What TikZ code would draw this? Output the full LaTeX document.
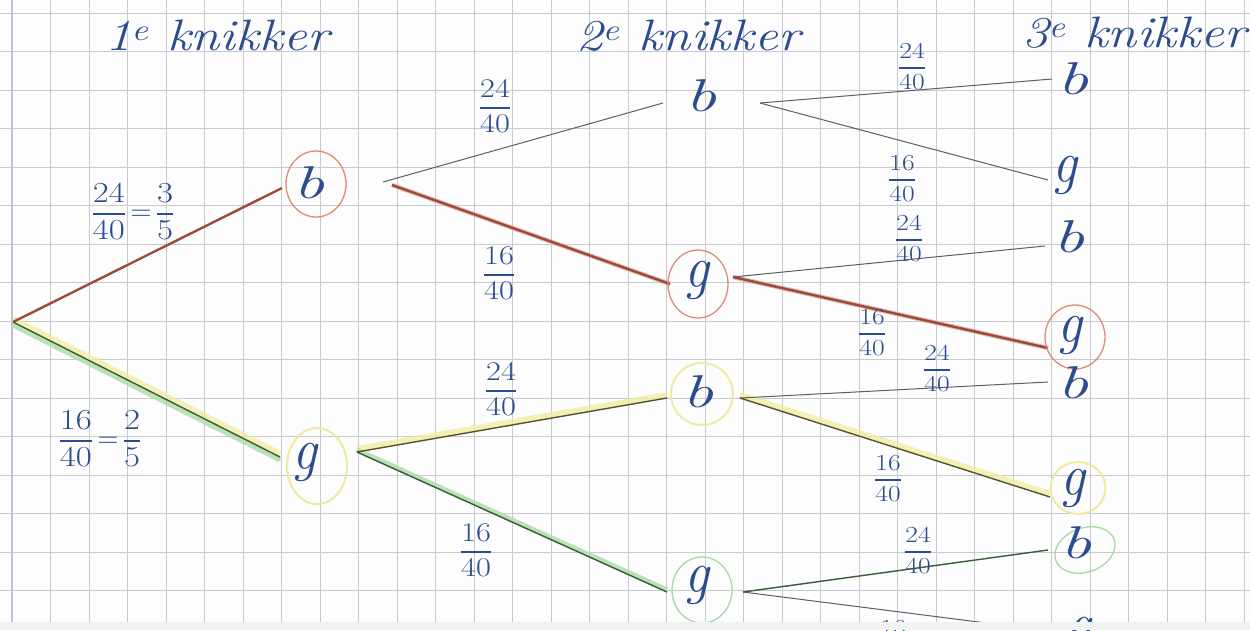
\documentclass[tikz,border=0pt]{standalone}
\usepackage{graphicx}
\usetikzlibrary{shapes.geometric}
\definecolor{ink}{HTML}{2B4C8F}
\definecolor{gridc}{HTML}{C9CACE}
\definecolor{marginc}{HTML}{BCC3D8}
\definecolor{redline}{HTML}{9A4B39}
\definecolor{redglow}{HTML}{E3A08E}
\definecolor{redcirc}{HTML}{DC8C76}
\definecolor{yel}{HTML}{F2EB9C}
\definecolor{yelcirc}{HTML}{EEEAA2}
\definecolor{grn}{HTML}{AEDFA8}
\definecolor{grncirc}{HTML}{A9D8A6}
\definecolor{darkg}{HTML}{3B5B39}
\definecolor{olive}{HTML}{55532E}
\definecolor{pen}{HTML}{5E5E62}
\definecolor{paper}{HTML}{FDFDFD}
\definecolor{edgec}{HTML}{F1F2F4}
\setlength{\arrayrulewidth}{1.3pt}
\newcommand{\hfr}[2]{\renewcommand{\arraystretch}{1.05}\begin{tabular}{@{}c@{}}\scalebox{1.2}[1]{#1}\\\hline \scalebox{1.2}[1]{#2}\end{tabular}}
\begin{document}
\begin{tikzpicture}[x=1pt,y=-1pt,
  gridline/.style={draw=gridc,line width=0.8pt},
  letter/.style={text=ink,inner sep=0pt,font=\fontsize{46}{46}\selectfont\itshape},
  titletext/.style={text=ink,inner sep=0pt,anchor=base,font=\fontsize{44}{44}\selectfont\itshape},
  fracA/.style={text=ink,inner sep=0pt,font=\fontsize{29}{34}\selectfont},
  fracB/.style={text=ink,inner sep=0pt,font=\fontsize{27}{32}\selectfont},
  fracC/.style={text=ink,inner sep=0pt,font=\fontsize{23}{28}\selectfont},
  penline/.style={draw=pen,line width=1pt},
  redpath/.style={draw=redline,line width=2.4pt},
  redhalo/.style={draw=redglow,line width=4.5pt,opacity=0.7},
  yelhalo/.style={draw=yel,line width=6pt,opacity=0.75},
  grnhalo/.style={draw=grn,line width=5pt,opacity=0.85},
  darkline/.style={draw=darkg,line width=1.4pt},
  oliveline/.style={draw=olive,line width=1.4pt},
  ring/.style={ellipse,line width=1.3pt,inner sep=0pt,fill=none},
  redring/.style={ring,draw=redcirc},
  yelring/.style={ring,draw=yelcirc,line width=2pt},
  grnring/.style={ring,draw=grncirc}]
\useasboundingbox (0,0) rectangle (1250,630);
\fill[paper] (0,0) rectangle (1250,630);
% squared paper
\foreach \i in {0,...,32} \draw[gridline] ({12+38.5*\i},0) -- ({12+38.5*\i},622);
\foreach \j in {0,...,15} \draw[gridline] (0,{13+38.5*\j}) -- (1250,{13+38.5*\j});
\draw[marginc,line width=2.6pt] (12,0) -- (12,622);

% points where the branches meet the letters
\coordinate (R) at (13,322);
\coordinate (b1in) at (282,188);  \coordinate (b1out) at (383,182); \coordinate (b1outr) at (392,185);
\coordinate (g1in) at (280,457);  \coordinate (g1out) at (357,452);
\coordinate (b2ain) at (663,103); \coordinate (b2aout) at (760,103);
\coordinate (g2ain) at (670,284); \coordinate (g2aout) at (733,277);
\coordinate (b2bin) at (667,398); \coordinate (b2bout) at (740,398);
\coordinate (g2bin) at (667,592); \coordinate (g2bout) at (743,592);
\coordinate (b3ain) at (1052,79);
\coordinate (g3ain) at (1048,180);
\coordinate (b3bin) at (1045,246);
\coordinate (g3bin) at (1048,348);
\coordinate (b3cin) at (1048,382);
\coordinate (g3cin) at (1050,497);
\coordinate (b3din) at (1048,550);
\coordinate (g3din) at (1010,626);

% highlighter strokes
\draw[yelhalo] ([yshift=3pt]R) -- ([yshift=3pt]g1in);
\draw[grnhalo] ([yshift=-3pt]R) -- ([yshift=-3pt]g1in);
\draw[yelhalo] ([yshift=3pt]g1out) -- ([yshift=3pt]b2bin);
\draw[grnhalo] ([yshift=2pt]g1out) -- ([yshift=2pt]g2bin);
\draw[yelhalo] ([yshift=3pt]b2bout) -- ([yshift=3pt]g3cin);
\draw[redhalo] (b1outr) -- (g2ain);
\draw[redhalo] (g2aout) -- (g3bin);

% branches
\draw[redpath] (R) -- (b1in);
\draw[darkline] (R) -- (g1in);
\draw[penline] (b1out) -- (b2ain);
\draw[redpath] (b1outr) -- (g2ain);
\draw[oliveline] (g1out) -- (b2bin);
\draw[darkline] (g1out) -- (g2bin);
\draw[penline] (b2aout) -- (b3ain);
\draw[penline] (b2aout) -- (g3ain);
\draw[penline] (g2aout) -- (b3bin);
\draw[redpath] (g2aout) -- (g3bin);
\draw[penline] (b2bout) -- (b3cin);
\draw[oliveline] (b2bout) -- (g3cin);
\draw[darkline] (g2bout) -- (b3din);
\draw[penline] (g2bout) -- (g3din);

% circles
\node[redring,minimum width=60pt,minimum height=66pt] (c1) at (316,184) {};
\node[yelring,minimum width=60pt,minimum height=76pt] (c2) at (317,466) {};
\node[redring,minimum width=60pt,minimum height=68pt] (c3) at (698,284) {};
\node[yelring,minimum width=62pt,minimum height=62pt] (c4) at (702,394) {};
\node[grnring,minimum width=60pt,minimum height=66pt] (c5) at (702,590) {};
\node[redring,minimum width=60pt,minimum height=64pt] (c6) at (1075,337) {};
\node[yelring,minimum width=55pt,minimum height=52pt] (c7) at (1078,488) {};
\node[grnring,minimum width=62pt,minimum height=44pt,rotate=20] (c8) at (1085,550) {};

% letters
\node[letter] (b1) at (309,183) {\scalebox{1.5}[1]{b}};
\node[letter] (g1) at (305,462) {\scalebox{1.2}[1.3]{g}};
\node[letter] (b2a) at (701,96) {\scalebox{1.5}[1]{b}};
\node[letter] (g2a) at (697,280) {\scalebox{1.2}[1.3]{g}};
\node[letter] (b2b) at (698,392) {\scalebox{1.5}[1]{b}};
\node[letter] (g2b) at (697,585) {\scalebox{1.2}[1.3]{g}};
\node[letter] (b3a) at (1073,79) {\scalebox{1.5}[1]{b}};
\node[letter] (g3a) at (1065,175) {\scalebox{1.2}[1.3]{g}};
\node[letter] (b3b) at (1069,237) {\scalebox{1.5}[1]{b}};
\node[letter] (g3b) at (1070,335) {\scalebox{1.2}[1.3]{g}};
\node[letter] (b3c) at (1073,383) {\scalebox{1.5}[1]{b}};
\node[letter] (g3c) at (1073,488) {\scalebox{1.2}[1.3]{g}};
\node[letter] (b3d) at (1076,543) {\scalebox{1.5}[1]{b}};
\node[letter] (g3d) at (1079,636) {\scalebox{1.2}[1.3]{g}};

% column headings
\node[titletext] (t1) at (217,50) {\scalebox{1.2}[1]{1\textsuperscript{e} knikker}};
\node[titletext] (t2) at (688,50) {\scalebox{1.2}[1]{2\textsuperscript{e} knikker}};
\node[titletext] (t3) at (1134,47) {\scalebox{1.2}[1]{3\textsuperscript{e} knikker}};

% probabilities
\node[fracA] (p1) at (133,214) {\hfr{24}{40}\hspace{0.2em}=\hspace{0.2em}\hfr{3}{5}};
\node[fracA] (p2) at (100,441) {\hfr{16}{40}\hspace{0.2em}=\hspace{0.2em}\hfr{2}{5}};
\node[fracB] (p3) at (495,108) {\hfr{24}{40}};
\node[fracB] (p4) at (499,275) {\hfr{16}{40}};
\node[fracB] (p5) at (501,391) {\hfr{24}{40}};
\node[fracB] (p6) at (476,552) {\hfr{16}{40}};
\node[fracC] (p7) at (912,68) {\hfr{24}{40}};
\node[fracC] (p8) at (902,180) {\hfr{16}{40}};
\node[fracC] (p9) at (909,240) {\hfr{24}{40}};
\node[fracC] (p10) at (872,334) {\hfr{16}{40}};
\node[fracC] (p11) at (937,370) {\hfr{24}{40}};
\node[fracC] (p12) at (888,480) {\hfr{16}{40}};
\node[fracC] (p13) at (918,552) {\hfr{24}{40}};
\node[fracC] (p14) at (893,645) {\hfr{16}{40}};

% edge of the sheet
\fill[edgec] (0,622) rectangle (1250,630);
\end{tikzpicture}
\end{document}
